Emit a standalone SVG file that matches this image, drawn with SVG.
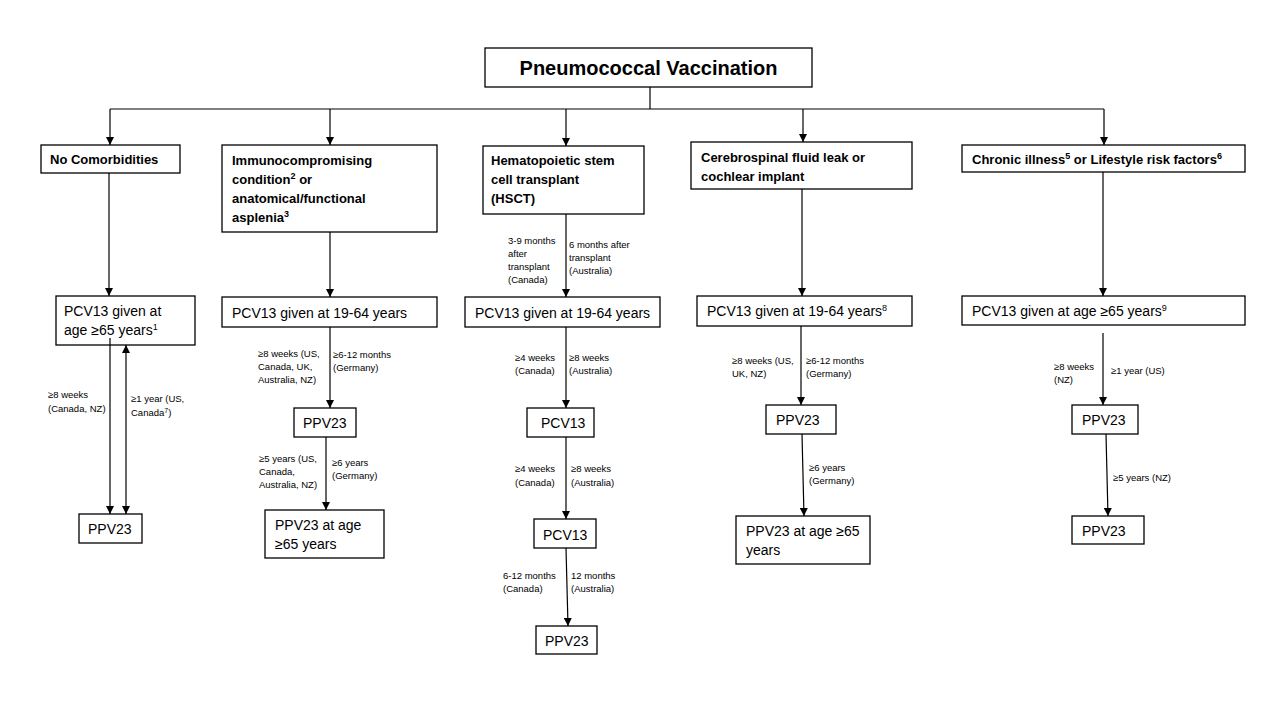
<svg xmlns="http://www.w3.org/2000/svg" width="1280" height="720" viewBox="0 0 1280 720">
<style>
.box{fill:#fff;stroke:#000;stroke-width:1.3}
.t{font-family:"Liberation Sans",Arial,sans-serif;font-size:14px;fill:#000}
.b{font-family:"Liberation Sans",Arial,sans-serif;font-size:13px;font-weight:bold;fill:#000}
.title{font-family:"Liberation Sans",Arial,sans-serif;font-size:20px;font-weight:bold;fill:#000}
.s{font-family:"Liberation Sans",Arial,sans-serif;font-size:9.5px;fill:#000}
.sup{font-size:9px}
.ln{stroke:#000;stroke-width:1.2;fill:none}
.ar{stroke:#000;stroke-width:1.2;fill:none;marker-end:url(#ah)}
</style>
<defs>
<marker id="ah" viewBox="0 0 10 10" refX="10" refY="5" markerWidth="8" markerHeight="8" markerUnits="userSpaceOnUse" orient="auto-start-reverse">
<path d="M0,0 L10,5 L0,10 z" fill="#000"/>
</marker>
</defs>
<rect width="1280" height="720" fill="#fff"/>

<g id="title">
<rect class="box" x="485" y="48" width="327" height="39"/>
<text class="title" x="648.5" y="75" text-anchor="middle">Pneumococcal Vaccination</text>
</g>

<g id="no-comorbidities">
<rect class="box" x="41" y="145" width="139" height="28"/>
<text class="b" x="50" y="164">No Comorbidities</text>
</g>
<g id="immuno">
<rect class="box" x="222" y="145" width="215" height="87"/>
<text class="b" x="232" y="165">Immunocompromising</text>
<text class="b" x="232" y="184">condition<tspan class="sup" dy="-5">2</tspan><tspan dy="5"> or</tspan></text>
<text class="b" x="232" y="203">anatomical/functional</text>
<text class="b" x="232" y="222">asplenia<tspan class="sup" dy="-5">3</tspan></text>
</g>
<g id="hsct">
<rect class="box" x="483" y="146" width="161" height="68"/>
<text class="b" x="491" y="165">Hematopoietic stem</text>
<text class="b" x="491" y="184">cell transplant</text>
<text class="b" x="491" y="203">(HSCT)</text>
</g>
<g id="csf">
<rect class="box" x="691" y="142" width="221" height="47"/>
<text class="b" x="701" y="162">Cerebrospinal fluid leak or</text>
<text class="b" x="701" y="181">cochlear implant</text>
</g>
<g id="chronic">
<rect class="box" x="962" y="145" width="283" height="27"/>
<text class="b" x="972" y="164">Chronic illness<tspan class="sup" dy="-5">5</tspan><tspan dy="5"> or Lifestyle risk factors</tspan><tspan class="sup" dy="-5">6</tspan></text>
</g>

<g id="c1-pcv13">
<rect class="box" x="56" y="296" width="139" height="49"/>
<text class="t" x="64" y="316">PCV13 given at</text>
<text class="t" x="64" y="335">age ≥65 years<tspan class="sup" dy="-5">1</tspan></text>
</g>
<g id="c1-ppv23">
<rect class="box" x="79" y="514" width="63" height="29"/>
<text class="t" x="88" y="534">PPV23</text>
</g>

<g id="c2-pcv13">
<rect class="box" x="222" y="297" width="215" height="30"/>
<text class="t" x="232" y="318">PCV13 given at 19-64 years</text>
</g>
<g id="c2-ppv23">
<rect class="box" x="294" y="408" width="62" height="29"/>
<text class="t" x="303" y="428">PPV23</text>
</g>
<g id="c2-ppv23-65">
<rect class="box" x="265" y="510" width="119" height="48"/>
<text class="t" x="275" y="530">PPV23  at age</text>
<text class="t" x="275" y="549">≥65 years</text>
</g>

<g id="c3-pcv13">
<rect class="box" x="465" y="297" width="195" height="30"/>
<text class="t" x="475" y="318">PCV13 given at 19-64 years</text>
</g>
<g id="c3-pcv13-b">
<rect class="box" x="527" y="408" width="67" height="29"/>
<text class="t" x="541" y="428">PCV13</text>
</g>
<g id="c3-pcv13-c">
<rect class="box" x="534" y="519" width="62" height="29"/>
<text class="t" x="543" y="540">PCV13</text>
</g>
<g id="c3-ppv23">
<rect class="box" x="536" y="626" width="61" height="28"/>
<text class="t" x="545" y="646">PPV23</text>
</g>

<g id="c4-pcv13">
<rect class="box" x="697" y="296" width="215" height="30"/>
<text class="t" x="707" y="316">PCV13 given at 19-64 years<tspan class="sup" dy="-5">8</tspan></text>
</g>
<g id="c4-ppv23">
<rect class="box" x="766" y="405" width="70" height="29"/>
<text class="t" x="776" y="425">PPV23</text>
</g>
<g id="c4-ppv23-65">
<rect class="box" x="736" y="516" width="134" height="48"/>
<text class="t" x="746" y="536">PPV23  at age ≥65</text>
<text class="t" x="746" y="555">years</text>
</g>

<g id="c5-pcv13">
<rect class="box" x="962" y="296" width="283" height="29"/>
<text class="t" x="972" y="316">PCV13 given at age ≥65 years<tspan class="sup" dy="-5">9</tspan></text>
</g>
<g id="c5-ppv23">
<rect class="box" x="1072" y="405" width="66" height="29"/>
<text class="t" x="1082" y="425">PPV23</text>
</g>
<g id="c5-ppv23-b">
<rect class="box" x="1072" y="516" width="72" height="28"/>
<text class="t" x="1082" y="536">PPV23</text>
</g>

<g id="connectors">
<line class="ln" x1="650" y1="87" x2="650" y2="109"/>
<line class="ln" x1="110" y1="109" x2="1104" y2="109"/>
<line class="ar" x1="110" y1="109" x2="110" y2="145"/>
<line class="ar" x1="330" y1="109" x2="330" y2="145"/>
<line class="ar" x1="566" y1="109" x2="566" y2="146"/>
<line class="ar" x1="803" y1="109" x2="803" y2="142"/>
<line class="ar" x1="1104" y1="109" x2="1104" y2="145"/>

<line class="ar" x1="109" y1="173" x2="109" y2="296"/>
<line class="ar" x1="330" y1="232" x2="330" y2="297"/>
<line class="ar" x1="566" y1="214" x2="566" y2="297"/>
<line class="ar" x1="802" y1="189" x2="802" y2="296"/>
<line class="ar" x1="1103" y1="172" x2="1103" y2="296"/>

<line class="ar" x1="110" y1="338" x2="110" y2="514"/>
<line class="ar" x1="126" y1="353" x2="126" y2="345"/>
<line class="ar" x1="126" y1="350" x2="126" y2="514"/>
<line class="ar" x1="330" y1="327" x2="330" y2="408"/>
<line class="ar" x1="326" y1="437" x2="326" y2="510"/>
<line class="ar" x1="566" y1="327" x2="566" y2="408"/>
<line class="ar" x1="566" y1="437" x2="566" y2="519"/>
<line class="ar" x1="566" y1="548" x2="568" y2="626"/>
<line class="ar" x1="801" y1="326" x2="801" y2="405"/>
<line class="ar" x1="802" y1="434" x2="804" y2="516"/>
<line class="ar" x1="1103" y1="333" x2="1103" y2="405"/>
<line class="ar" x1="1106" y1="434" x2="1108" y2="516"/>

<text class="s" x="48" y="398">≥8 weeks</text>
<text class="s" x="48" y="412">(Canada, NZ)</text>
<text class="s" x="131" y="402">≥1 year (US,</text>
<text class="s" x="131" y="416">Canada<tspan font-size="7" dy="-3">7</tspan><tspan dy="3">)</tspan></text>

<text class="s" x="258" y="357">≥8 weeks (US,</text>
<text class="s" x="258" y="370">Canada, UK,</text>
<text class="s" x="258" y="383">Australia, NZ)</text>
<text class="s" x="333" y="358">≥6-12 months</text>
<text class="s" x="333" y="371">(Germany)</text>
<text class="s" x="259" y="462">≥5 years (US,</text>
<text class="s" x="259" y="475">Canada,</text>
<text class="s" x="259" y="488">Australia, NZ)</text>
<text class="s" x="332" y="466">≥6 years</text>
<text class="s" x="332" y="479">(Germany)</text>

<text class="s" x="508" y="244">3-9 months</text>
<text class="s" x="508" y="257">after</text>
<text class="s" x="508" y="270">transplant</text>
<text class="s" x="508" y="283">(Canada)</text>
<text class="s" x="569" y="248">6 months after</text>
<text class="s" x="569" y="261">transplant</text>
<text class="s" x="569" y="274">(Australia)</text>
<text class="s" x="515" y="361">≥4 weeks</text>
<text class="s" x="515" y="374">(Canada)</text>
<text class="s" x="569" y="361">≥8 weeks</text>
<text class="s" x="569" y="374">(Australia)</text>
<text class="s" x="515" y="472">≥4 weeks</text>
<text class="s" x="515" y="486">(Canada)</text>
<text class="s" x="571" y="472">≥8 weeks</text>
<text class="s" x="571" y="486">(Australia)</text>
<text class="s" x="503" y="579">6-12 months</text>
<text class="s" x="503" y="592">(Canada)</text>
<text class="s" x="571" y="579">12 months</text>
<text class="s" x="571" y="592">(Australia)</text>

<text class="s" x="732" y="364">≥8 weeks (US,</text>
<text class="s" x="732" y="377">UK, NZ)</text>
<text class="s" x="806" y="364">≥6-12 months</text>
<text class="s" x="806" y="377">(Germany)</text>
<text class="s" x="809" y="471">≥6 years</text>
<text class="s" x="809" y="484">(Germany)</text>

<text class="s" x="1054" y="370">≥8 weeks</text>
<text class="s" x="1054" y="383">(NZ)</text>
<text class="s" x="1111" y="374">≥1 year (US)</text>
<text class="s" x="1113" y="481">≥5 years (NZ)</text>
</g>
</svg>
